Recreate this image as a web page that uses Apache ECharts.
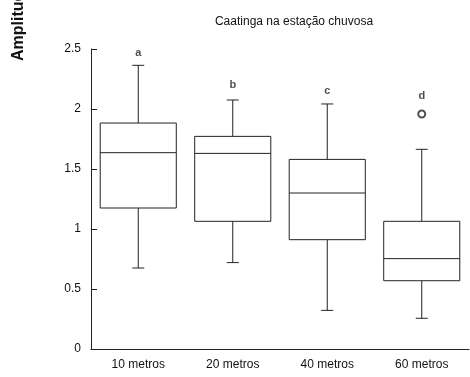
<!DOCTYPE html>
<html>
<head>
<meta charset="utf-8">
<script src="https://cdn.jsdelivr.net/npm/echarts@6/dist/echarts.min.js"></script>
<style>html,body{margin:0;padding:0;background:#fff}#c{width:470px;height:377px}</style>
</head>
<body>
<div id="c"></div>
<script>
const categories = ['10 metros', '20 metros', '40 metros', '60 metros'];
const whiskerLow = [0.675, 0.72, 0.322, 0.256];
const q1 = [1.175, 1.064, 0.911, 0.569];
const medians = [1.636, 1.63, 1.30, 0.753];
const q3 = [1.883, 1.772, 1.58, 1.064];
const whiskerHigh = [2.364, 2.075, 2.042, 1.664];
const outliers = [[3, 1.958]];
const letters = ['a', 'b', 'c', 'd'];
const letterY = [2.47, 2.20, 2.15, 2.11];
const yTicks = [0, 0.5, 1, 1.5, 2, 2.5];

const FONT = 'Arial, "Liberation Sans", sans-serif';
const LINE = '#222';

const boxData = categories.map((c, i) => [i, whiskerLow[i], q1[i], medians[i], q3[i], whiskerHigh[i]]);

const chart = echarts.init(document.getElementById('c'), null, {renderer: 'canvas'});
chart.setOption({
  animation: false,
  backgroundColor: '#fff',
  title: {
    text: 'Caatinga na estação chuvosa',
    left: 289, top: 11, textAlign: 'center',
    textStyle: {fontFamily: FONT, fontSize: 12, fontWeight: 'normal', color: '#111'}
  },
  graphic: [{
    type: 'text', x: 19, y: 61, rotation: Math.PI / 2,
    style: {text: 'Amplitude', font: 'bold 16px ' + FONT, fill: '#111', textAlign: 'left', textVerticalAlign: 'middle'}
  }],
  grid: {left: 91, right: 1, top: 49, bottom: 28},
  xAxis: {
    type: 'category', data: categories,
    axisLine: {lineStyle: {color: LINE, width: 1}},
    axisTick: {inside: true, length: 6, lineStyle: {color: LINE}},
    axisLabel: {fontFamily: FONT, fontSize: 12, color: '#111', margin: 10},
    splitLine: {show: false}
  },
  yAxis: {
    type: 'value', min: yTicks[0], max: yTicks[yTicks.length - 1], interval: 0.5,
    axisLine: {show: true, lineStyle: {color: LINE, width: 1}},
    axisTick: {show: true, inside: true, length: 6, lineStyle: {color: LINE}},
    axisLabel: {fontFamily: FONT, fontSize: 12, color: '#111', margin: 10},
    splitLine: {show: false}
  },
  series: [
    {
      type: 'custom',
      data: boxData,
      encode: {x: 0, y: [1, 2, 3, 4, 5]},
      renderItem: function (params, api) {
        const x = api.value(0);
        const pLow = api.coord([x, api.value(1)]);
        const pQ1 = api.coord([x, api.value(2)]);
        const pMed = api.coord([x, api.value(3)]);
        const pQ3 = api.coord([x, api.value(4)]);
        const pHigh = api.coord([x, api.value(5)]);
        const bw = api.size([1, 0])[0] * 0.805;
        const cx = pMed[0];
        const half = bw / 2, cap = 6;
        const st = {stroke: LINE, lineWidth: 1, fill: null};
        return {
          type: 'group',
          children: [
            {type: 'line', shape: {x1: cx, y1: pHigh[1], x2: cx, y2: pQ3[1]}, style: st},
            {type: 'line', shape: {x1: cx, y1: pQ1[1], x2: cx, y2: pLow[1]}, style: st},
            {type: 'line', shape: {x1: cx - cap, y1: pHigh[1], x2: cx + cap, y2: pHigh[1]}, style: st},
            {type: 'line', shape: {x1: cx - cap, y1: pLow[1], x2: cx + cap, y2: pLow[1]}, style: st},
            {type: 'rect', shape: {x: cx - half, y: pQ3[1], width: bw, height: pQ1[1] - pQ3[1]}, style: {stroke: LINE, lineWidth: 1, fill: '#fff'}},
            {type: 'line', shape: {x1: cx - half, y1: pMed[1], x2: cx + half, y2: pMed[1]}, style: st}
          ]
        };
      }
    },
    {
      type: 'scatter',
      data: outliers,
      symbol: 'emptyCircle',
      symbolSize: 7,
      itemStyle: {color: LINE, borderColor: LINE, borderWidth: 1}
    },
    {
      type: 'scatter',
      data: letters.map((l, i) => [i, letterY[i]]),
      symbolSize: 0,
      label: {
        show: true, position: 'inside',
        formatter: p => letters[p.dataIndex],
        fontFamily: FONT, fontSize: 11, fontWeight: 'bold', color: '#222'
      }
    }
  ]
});
</script>
</body>
</html>
